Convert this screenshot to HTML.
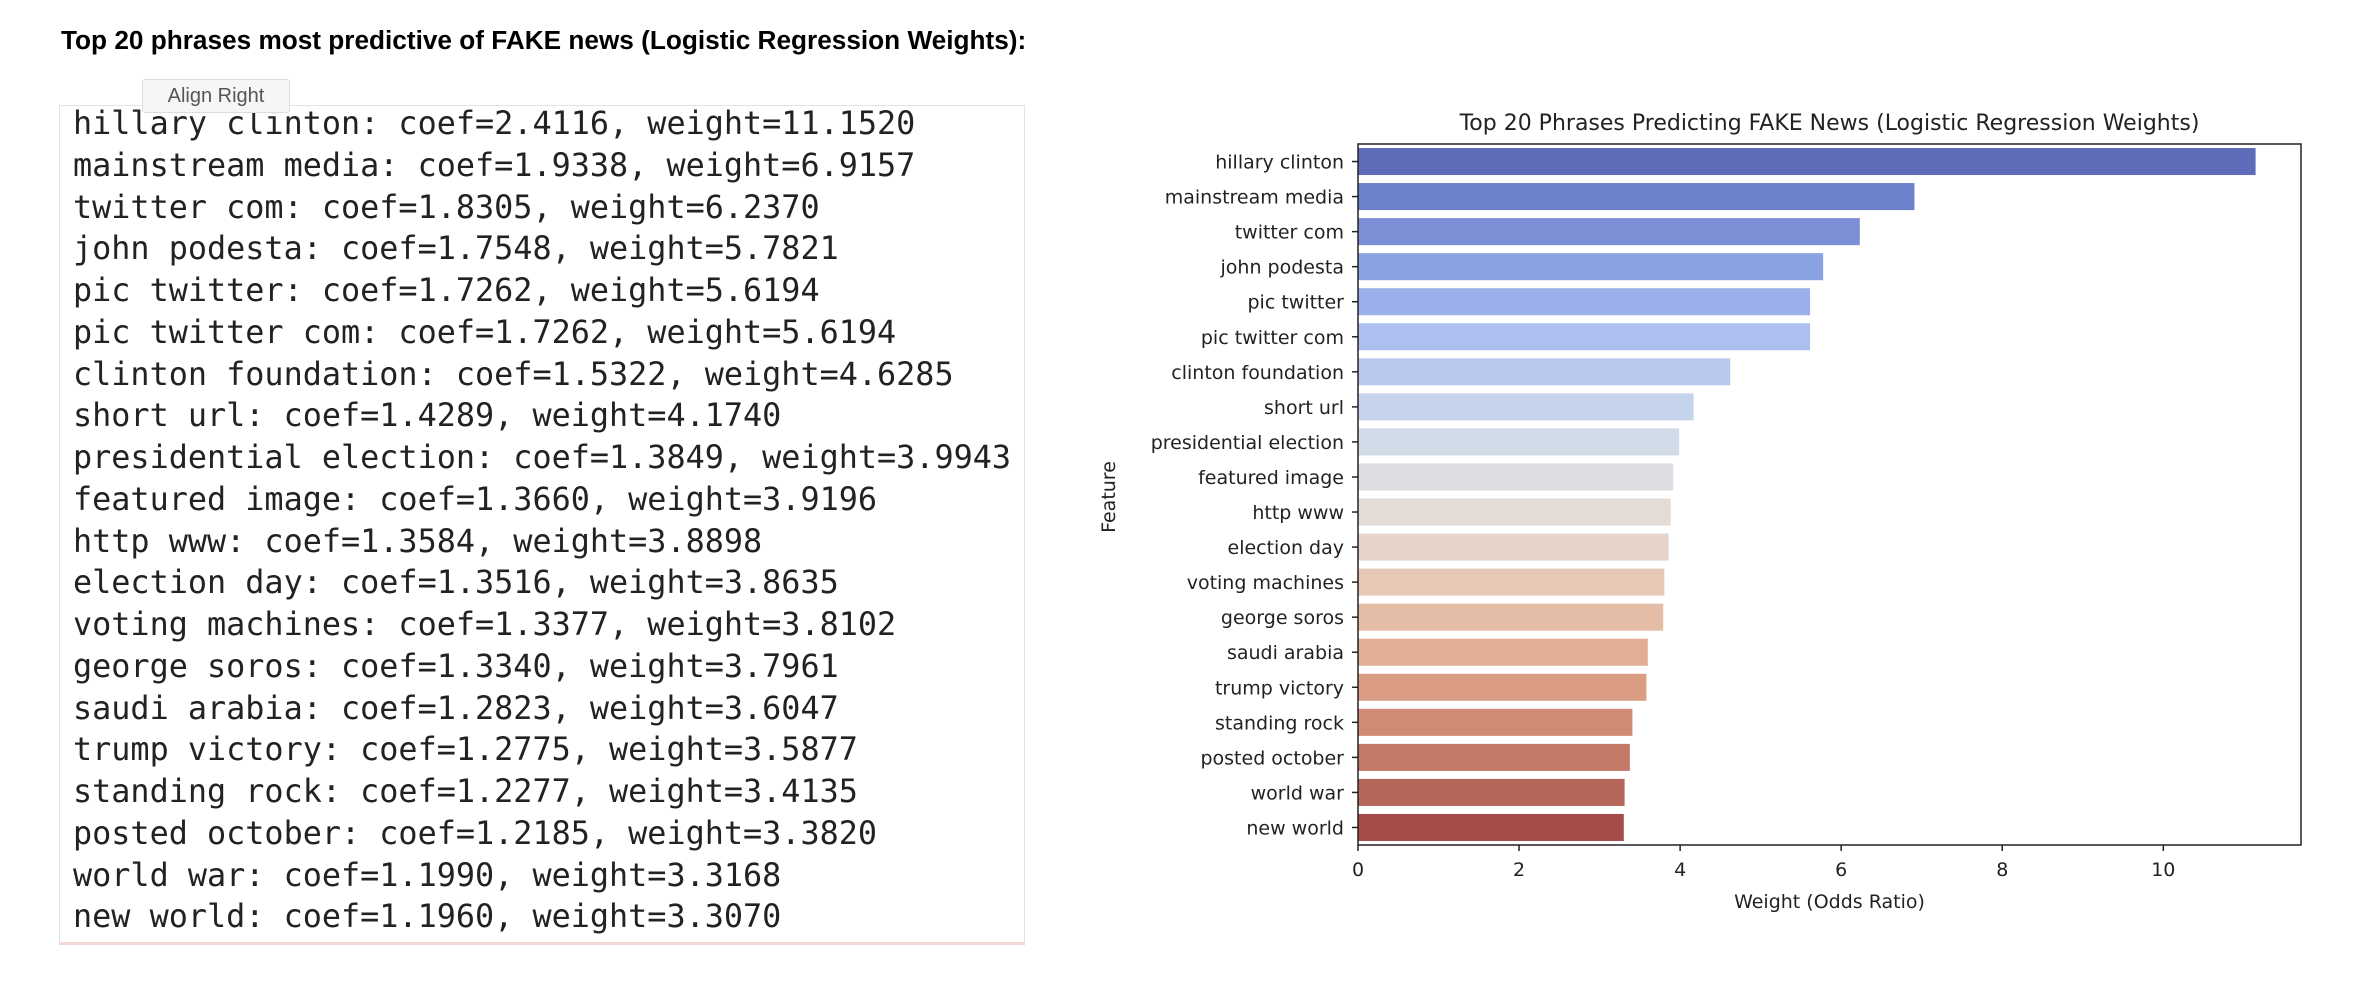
<!DOCTYPE html>
<html><head><meta charset="utf-8"><style>
body{margin:0;background:#fff;width:2378px;height:984px;position:relative;overflow:hidden;font-family:"DejaVu Sans","Liberation Sans",sans-serif}
#title{position:absolute;left:61px;top:25px;font:bold 26.2px "Liberation Sans",sans-serif;color:#000;letter-spacing:0px}
#box{position:absolute;left:59px;top:105px;width:964px;height:836px;border:1px solid #e3e3e3;border-bottom:3px solid #f3d6d6}
#lines{position:absolute;left:73px;top:103px;font:31.8px "DejaVu Sans Mono","Liberation Mono",monospace;color:#222;line-height:41.75px;white-space:pre}
#tip{position:absolute;left:142px;top:79px;width:146px;height:32px;background:#f6f6f6;border:1px solid #ddd;border-radius:3px;font:20px "Liberation Sans",sans-serif;color:#555;text-align:center;line-height:32px}
</style></head><body>
<div id="title">Top 20 phrases most predictive of FAKE news (Logistic Regression Weights):</div>
<div id="box"></div>
<div id="lines">hillary clinton: coef=2.4116, weight=11.1520
mainstream media: coef=1.9338, weight=6.9157
twitter com: coef=1.8305, weight=6.2370
john podesta: coef=1.7548, weight=5.7821
pic twitter: coef=1.7262, weight=5.6194
pic twitter com: coef=1.7262, weight=5.6194
clinton foundation: coef=1.5322, weight=4.6285
short url: coef=1.4289, weight=4.1740
presidential election: coef=1.3849, weight=3.9943
featured image: coef=1.3660, weight=3.9196
http www: coef=1.3584, weight=3.8898
election day: coef=1.3516, weight=3.8635
voting machines: coef=1.3377, weight=3.8102
george soros: coef=1.3340, weight=3.7961
saudi arabia: coef=1.2823, weight=3.6047
trump victory: coef=1.2775, weight=3.5877
standing rock: coef=1.2277, weight=3.4135
posted october: coef=1.2185, weight=3.3820
world war: coef=1.1990, weight=3.3168
new world: coef=1.1960, weight=3.3070</div>
<div id="tip">Align Right</div>
<svg id="chart" width="2378" height="984" style="position:absolute;left:0;top:0"></svg>
<script>
const categories=["hillary clinton","mainstream media","twitter com","john podesta","pic twitter","pic twitter com","clinton foundation","short url","presidential election","featured image","http www","election day","voting machines","george soros","saudi arabia","trump victory","standing rock","posted october","world war","new world"];
const weights=[11.1520,6.9157,6.2370,5.7821,5.6194,5.6194,4.6285,4.1740,3.9943,3.9196,3.8898,3.8635,3.8102,3.7961,3.6047,3.5877,3.4135,3.3820,3.3168,3.3070];
const barColors=["#5e6cb9","#6c80cb","#7b8ed6","#8aa2e2","#9bb0ea","#acbfee","#bac8ef","#c6d3ec","#d2dbe8","#dcdee2","#e3dbd5","#e7d4c8","#e7c8b6","#e5bda6","#e1ae96","#da9d84","#d08b74","#c47867","#b6655a","#a54c4b"];
const xTicks=[0,2,4,6,8,10];
const L=1358,R=2301,T=144,B=845;
const xmax=Math.max(...weights)*1.05;
const xs=v=>L+v/xmax*(R-L);
const band=(B-T)/categories.length;
const ys=i=>T+band*i;
const svg=document.getElementById('chart');
const NS='http://www.w3.org/2000/svg';
function mk(tag,attrs,txt){const e=document.createElementNS(NS,tag);for(const k in attrs)e.setAttribute(k,attrs[k]);if(txt!==undefined)e.textContent=txt;svg.appendChild(e);return e;}
categories.forEach((c,i)=>{
  const r=mk('rect',{x:L,y:ys(i)+band*0.1,width:xs(weights[i])-L,height:band*0.8,fill:barColors[i],stroke:'#fff','stroke-width':1});
  
  
  const cy=ys(i)+band/2;
  const tk=mk('line',{x1:L-6,x2:L,y1:cy,y2:cy,stroke:'#222','stroke-width':1.5});
  
  
  const t=mk('text',{x:L-14,y:cy+7,'text-anchor':'end','font-size':19,fill:'#222'},c);
  
  
});
xTicks.forEach(v=>{
  const x=xs(v);
  const tk=mk('line',{x1:x,x2:x,y1:B,y2:B+6,stroke:'#222','stroke-width':1.5});
  
  
  const t=mk('text',{x:x,y:B+31,'text-anchor':'middle','font-size':19,fill:'#222'},String(v));
  
  
});
const fr=mk('rect',{x:L,y:T,width:R-L,height:B-T,fill:'none',stroke:'#222','stroke-width':1.5});


const ti=mk('text',{x:(L+R)/2,y:130,'text-anchor':'middle','font-size':22,fill:'#222'},'Top 20 Phrases Predicting FAKE News (Logistic Regression Weights)');


const xl=mk('text',{x:(L+R)/2,y:908,'text-anchor':'middle','font-size':19,fill:'#222'},'Weight (Odds Ratio)');


const yl=mk('text',{x:0,y:0,'text-anchor':'middle','font-size':19,fill:'#222',transform:'translate(1115,497) rotate(-90)'},'Feature');


</script>
</body></html>
